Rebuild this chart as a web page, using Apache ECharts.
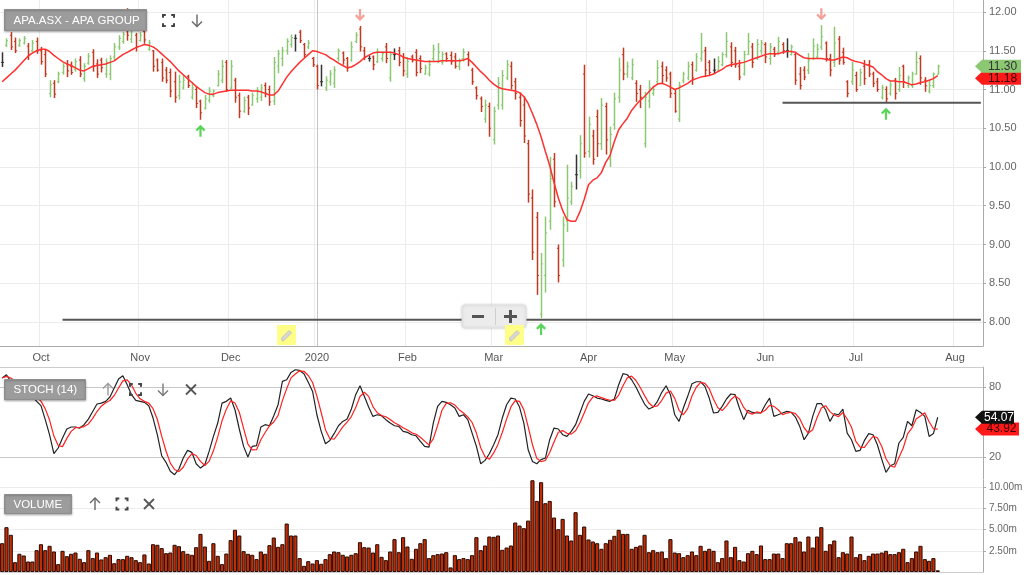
<!DOCTYPE html>
<html><head><meta charset="utf-8">
<script src="https://cdn.jsdelivr.net/npm/echarts@6/dist/echarts.min.js"></script>
<style>html,body{margin:0;padding:0;background:#fff}#c{width:1024px;height:575px}</style>
</head><body><div id="c"></div>
<script>
// ---------- calendar (ASX trading days) ----------
const firstDay = [2019, 8, 18];   // 18 Sep 2019
const lastDay  = [2020, 7, 11];   // 11 Aug 2020 (axis runs past last bar)
const marketHolidays = ['2019-12-25','2019-12-26','2020-01-01','2020-01-27','2020-04-10','2020-04-13','2020-06-08'];
const monthNames = ['Jan','Feb','Mar','Apr','May','Jun','Jul','Aug','Sep','Oct','Nov','Dec'];

// ---------- price data (OHLC) ----------
const opens = [
11.35,11.57,11.70,11.62,11.57,11.60,11.56,11.50,11.62,11.50,
11.45,10.95,11.08,11.10,11.22,11.33,11.30,11.26,11.38,11.14,
11.34,11.48,11.33,11.38,11.20,11.20,11.42,11.55,11.62,11.95,
11.65,11.70,11.63,11.75,11.52,11.50,11.38,11.35,11.25,11.22,
11.10,10.92,11.02,11.17,10.90,11.00,10.85,10.76,10.86,10.92,
11.05,11.12,11.35,11.02,11.12,10.92,10.72,10.90,10.80,10.88,
10.90,11.05,11.00,10.85,11.30,11.40,11.50,11.58,11.66,11.74,
11.58,11.55,11.40,11.30,11.10,11.02,11.10,11.08,11.40,11.47,
11.40,11.38,11.62,11.78,11.50,11.40,11.42,11.36,11.40,11.55,
11.15,11.45,11.50,11.42,11.20,11.42,11.48,11.40,11.20,11.20,
11.40,11.36,11.35,11.46,11.44,11.42,11.30,11.40,11.45,11.25,
11.02,10.88,10.62,10.78,10.35,10.80,10.80,11.15,11.30,11.10,
10.90,10.80,10.30,9.60,9.35,8.10,8.60,9.30,10.10,8.95,
8.80,9.30,9.55,9.90,9.95,11.20,10.20,10.40,10.65,10.30,
10.78,10.10,10.55,10.90,11.45,11.20,11.15,11.08,11.00,10.30,
10.85,10.95,11.10,11.30,11.25,11.20,10.95,10.62,11.12,11.15,
11.32,11.25,11.40,11.50,11.35,11.25,11.25,11.32,11.45,11.55,
11.50,11.30,11.20,11.45,11.55,11.40,11.50,11.58,11.40,11.52,
11.48,11.58,11.50,11.45,11.45,11.20,11.25,11.25,11.40,11.42,
11.55,11.60,11.40,11.35,11.65,11.48,11.10,11.10,11.18,11.05,
11.30,11.32,11.20,11.10,10.90,11.00,10.95,11.12,11.00,11.30,
11.05,11.05,11.20,11.40,11.12,10.98,11.05,11.20];
const highs = [
11.48,11.66,11.74,11.67,11.66,11.69,11.60,11.64,11.67,11.55,
11.51,11.12,11.12,11.23,11.34,11.38,11.36,11.40,11.43,11.34,
11.47,11.52,11.39,11.41,11.40,11.44,11.60,11.70,11.74,12.05,
11.81,11.73,11.74,11.78,11.64,11.51,11.40,11.40,11.29,11.27,
11.23,11.19,11.19,11.19,11.10,11.04,10.87,10.93,11.03,11.00,
11.25,11.38,11.38,11.38,11.15,10.96,10.91,10.93,10.96,11.03,
11.07,11.09,11.05,11.42,11.51,11.55,11.66,11.71,11.71,11.77,
11.60,11.64,11.42,11.32,11.32,11.17,11.25,11.30,11.53,11.49,
11.42,11.62,11.74,11.82,11.55,11.44,11.44,11.53,11.49,11.60,
11.49,11.53,11.55,11.47,11.42,11.45,11.52,11.44,11.32,11.38,
11.58,11.60,11.49,11.48,11.49,11.47,11.40,11.53,11.49,11.28,
11.04,10.91,10.87,10.83,10.78,11.16,11.25,11.38,11.36,11.15,
10.96,10.91,10.35,9.71,9.42,8.89,9.36,10.13,10.18,9.00,
9.36,10.03,9.81,10.16,10.41,11.32,10.65,10.48,10.74,10.89,
10.83,10.52,10.96,11.41,11.54,11.36,11.40,11.12,11.06,10.97,
11.12,11.05,11.38,11.36,11.30,11.23,11.00,11.10,11.23,11.36,
11.36,11.47,11.73,11.55,11.38,11.40,11.43,11.48,11.74,11.61,
11.55,11.38,11.50,11.73,11.60,11.65,11.64,11.61,11.60,11.55,
11.68,11.61,11.66,11.58,11.47,11.29,11.30,11.47,11.66,11.59,
11.83,11.62,11.46,11.81,11.69,11.54,11.12,11.36,11.23,11.27,
11.38,11.38,11.23,11.15,11.06,11.04,11.10,11.15,11.29,11.32,
11.18,11.23,11.49,11.44,11.16,11.12,11.22,11.32];
const lows = [
11.29,11.55,11.51,11.47,11.55,11.58,11.38,11.48,11.46,11.32,
11.16,10.90,10.89,11.08,11.19,11.16,11.19,11.23,11.16,11.10,
11.32,11.23,11.15,11.22,11.15,11.12,11.38,11.51,11.59,11.63,
11.60,11.49,11.62,11.59,11.50,11.23,11.23,11.10,11.08,10.90,
10.83,10.87,11.00,11.02,10.87,10.76,10.61,10.74,10.83,10.90,
11.04,11.08,10.97,11.00,10.83,10.63,10.70,10.67,10.79,10.83,
10.85,10.90,10.79,10.80,11.21,11.30,11.45,11.54,11.49,11.60,
11.41,11.52,11.29,11.00,11.04,10.98,11.05,11.02,11.36,11.32,
11.23,11.36,11.60,11.49,11.38,11.36,11.25,11.34,11.36,11.34,
11.10,11.38,11.30,11.17,11.15,11.35,11.17,11.21,11.19,11.17,
11.36,11.34,11.32,11.36,11.32,11.27,11.25,11.36,11.30,11.06,
10.87,10.71,10.57,10.39,10.29,10.74,10.74,11.12,11.00,10.87,
10.52,10.31,9.54,8.80,8.35,8.05,8.38,9.19,9.48,8.51,
8.71,9.16,9.51,9.71,9.85,10.12,10.12,10.03,10.13,10.22,
10.16,10.00,10.48,10.83,11.12,11.15,11.12,10.84,10.76,10.25,
10.76,10.92,11.06,11.08,11.10,10.89,10.70,10.58,11.08,11.12,
11.06,11.23,11.36,11.16,11.18,11.20,11.23,11.30,11.41,11.29,
11.28,11.12,11.18,11.45,11.28,11.38,11.45,11.34,11.32,11.42,
11.45,11.46,11.41,11.44,11.06,11.00,11.12,11.20,11.38,11.40,
11.51,11.36,11.17,11.29,11.32,11.32,10.90,11.06,10.97,11.05,
11.06,11.16,11.03,10.97,10.87,10.83,10.92,10.87,10.97,11.02,
11.02,11.02,11.19,11.06,10.97,10.95,11.02,11.19];
const closes = [
11.35,11.63,11.55,11.50,11.63,11.66,11.44,11.60,11.50,11.36,
11.20,11.06,10.94,11.20,11.30,11.24,11.22,11.36,11.20,11.30,
11.43,11.30,11.20,11.28,11.35,11.40,11.55,11.66,11.71,11.70,
11.76,11.55,11.70,11.64,11.60,11.30,11.25,11.15,11.12,10.98,
10.90,11.10,11.12,11.05,11.02,10.82,10.70,10.88,10.98,10.98,
11.20,11.30,11.00,11.30,10.90,10.72,10.86,10.76,10.92,10.98,
11.02,10.95,10.84,11.35,11.46,11.50,11.62,11.67,11.66,11.63,
11.45,11.60,11.32,11.05,11.10,11.12,11.20,11.25,11.50,11.38,
11.28,11.55,11.70,11.55,11.42,11.40,11.32,11.48,11.46,11.40,
11.45,11.45,11.35,11.24,11.36,11.38,11.22,11.27,11.28,11.32,
11.52,11.48,11.45,11.40,11.36,11.30,11.36,11.48,11.38,11.10,
10.92,10.78,10.80,10.50,10.72,11.08,11.18,11.32,11.05,10.95,
10.60,10.40,9.65,8.90,8.60,8.75,9.15,9.85,9.55,8.60,
9.25,9.60,9.75,9.90,10.30,10.18,10.55,10.10,10.30,10.80,
10.35,10.42,10.88,11.25,11.20,11.30,11.32,10.95,10.90,10.90,
11.02,11.00,11.28,11.18,11.15,10.95,10.72,11.05,11.20,11.30,
11.15,11.42,11.48,11.25,11.22,11.25,11.36,11.45,11.62,11.35,
11.32,11.16,11.45,11.62,11.35,11.58,11.60,11.42,11.55,11.45,
11.62,11.50,11.50,11.55,11.12,11.05,11.16,11.38,11.56,11.52,
11.68,11.40,11.25,11.60,11.38,11.35,10.95,11.25,11.00,11.22,
11.14,11.20,11.08,11.00,11.02,10.88,11.06,10.95,11.18,11.10,
11.15,11.20,11.35,11.15,11.05,11.05,11.20,11.30];
// moving average line as drawn
const movingAvg = [
11.10,11.15,11.20,11.25,11.31,11.37,11.43,11.47,11.50,11.52,
11.52,11.49,11.44,11.40,11.36,11.33,11.31,11.28,11.25,11.24,
11.27,11.30,11.31,11.32,11.33,11.35,11.37,11.41,11.45,11.48,
11.51,11.54,11.56,11.58,11.57,11.55,11.51,11.46,11.41,11.36,
11.30,11.24,11.19,11.14,11.09,11.04,11.00,10.96,10.94,10.94,
10.96,10.97,10.98,10.99,10.99,10.99,10.99,10.99,10.98,10.98,
10.97,10.95,10.93,10.93,10.98,11.07,11.16,11.23,11.29,11.35,
11.40,11.45,11.50,11.49,11.47,11.45,11.41,11.38,11.34,11.31,
11.28,11.29,11.32,11.36,11.41,11.44,11.47,11.48,11.48,11.48,
11.48,11.47,11.45,11.42,11.40,11.39,11.38,11.37,11.36,11.36,
11.36,11.36,11.37,11.37,11.37,11.37,11.37,11.38,11.40,11.35,
11.29,11.23,11.18,11.12,11.07,11.03,11.01,11.00,10.99,10.98,
10.96,10.91,10.82,10.69,10.55,10.39,10.20,10.02,9.80,9.60,
9.44,9.32,9.30,9.30,9.42,9.58,9.77,9.83,9.86,9.93,
10.06,10.15,10.33,10.48,10.56,10.63,10.73,10.80,10.86,10.91,
10.97,11.03,11.07,11.08,11.06,11.03,11.00,11.02,11.05,11.08,
11.12,11.14,11.16,11.17,11.18,11.20,11.23,11.26,11.30,11.32,
11.33,11.34,11.35,11.37,11.39,11.41,11.43,11.45,11.46,11.46,
11.46,11.48,11.49,11.49,11.48,11.44,11.41,11.40,11.40,11.40,
11.40,11.39,11.38,11.38,11.40,11.42,11.41,11.38,11.36,11.35,
11.33,11.31,11.29,11.23,11.19,11.14,11.11,11.11,11.10,11.10,
11.08,11.06,11.07,11.09,11.10,11.12,11.14,11.18];
// Stochastic %K (14)
const stochK = [
87.7,90.5,84.8,80,77,75,74,72,67.7,64,
52,39,22.8,27.7,36.2,44,45.7,45.7,44.8,47.7,
52.5,59,65.4,66.2,67.7,71.4,79.1,86.8,89.7,82,
73.4,68.5,67.7,66.8,64,53.4,39,21.1,15.4,7.7,
4.8,9.7,19.1,25.7,24,14.2,10.5,13.4,24.8,37.7,
49.1,66.2,67.7,70.5,60.5,44,29.1,20,29.1,29.7,
45.7,47.7,46.8,55.4,64.8,84.8,86.2,92.5,94.8,94.2,
91.4,84,76.2,56.2,42,31.4,34.2,40,46.8,50.5,
52.5,61.1,73.4,81.1,72,62.8,54.8,56.2,55.4,52,
49.1,46.8,46.2,42,41.1,39.1,38.2,33.4,29.1,28.5,
49,63.4,67.7,66.8,64.8,62,54.8,56.2,52,40.5,
29.1,14.2,17.1,22.8,30.5,39.1,53.4,64.8,70.5,69.7,
62.8,49.1,26.2,16.2,14.2,17.7,19.1,34.8,44.8,44,
39.1,37.7,42,47.7,57.7,67.7,74,72.5,70.5,69.7,
68.5,67.7,69.7,82,91.4,90.5,86.2,80,72.5,65.4,
61.1,62.8,67.7,75.4,81.1,73.4,56.2,50.5,62,72,
82.8,84.5,84.5,80.5,70.5,57.7,58.2,63.4,69.7,74,
73.4,62,52,60,58.2,57.7,57.7,64.8,70.5,54.8,
56.2,57.7,59.1,58.2,54.2,46.2,34.8,40.5,54.8,65.7,
65.7,60.5,50.5,57.1,56.2,61.1,40.5,34.8,24.8,25.7,
34.2,40,39.1,30.5,18.2,6.8,12.5,14.2,32,36.8,
50.5,46.8,60.5,58.2,54.8,37.6,40.09,54.07];
const stochDPeriod = 3;
// Volume (millions)
const volumeM = [
3.40,5.29,4.39,1.16,2.15,1.95,1.24,1.24,2.58,3.28,
2.58,3.09,2.42,0.93,2.50,1.87,2.15,2.30,1.56,1.16,
2.58,1.64,2.30,1.48,1.75,2.03,1.04,1.52,1.52,1.91,
1.75,1.40,1.16,2.07,1.00,3.28,3.21,2.82,2.22,2.30,
3.21,3.05,2.46,2.15,2.03,2.93,4.50,3.01,1.32,3.40,
1.91,0.93,2.18,3.76,4.98,4.31,2.46,2.15,2.03,1.52,
2.42,2.15,3.17,4.07,2.97,3.28,5.72,4.31,4.31,1.64,
0.73,1.28,1.00,1.40,0.97,1.52,2.11,2.42,2.34,2.03,
1.83,2.03,2.22,3.52,2.93,2.89,2.30,3.28,1.79,1.40,
2.42,3.88,2.34,4.11,3.01,1.56,2.74,3.40,3.88,1.64,
1.99,2.11,2.18,2.34,0.54,1.99,1.52,1.64,1.52,1.99,
4.11,2.58,3.13,4.19,4.15,4.31,2.62,2.89,3.13,5.84,
5.48,5.17,6.07,10.83,8.39,10.60,8.12,8.39,6.43,5.05,
6.27,4.31,3.72,7.06,4.39,5.37,3.84,3.60,3.40,2.74,
3.40,3.80,4.27,4.98,4.50,4.50,2.74,2.97,3.13,4.39,
2.34,2.58,2.34,2.42,1.64,3.88,2.30,2.22,1.75,1.99,
2.42,1.99,3.09,2.50,2.74,2.50,1.16,1.64,3.72,1.75,
2.97,1.40,1.24,2.22,2.50,2.11,3.13,1.52,1.52,2.18,
2.18,1.64,3.40,3.40,4.11,3.60,2.42,4.19,2.89,4.19,
5.29,2.50,3.28,3.72,1.75,2.34,2.18,4.19,1.75,2.11,
1.40,1.91,2.18,2.18,2.30,2.50,2.11,2.11,2.34,2.74,
1.16,1.64,2.42,3.09,1.52,1.32,1.64,0.20];

// annotations
const upArrowBars = [46, 125, 205];
const downArrowBars = [83, 190];
const supportLines = [{from: 14, level: 8.03}, {from: 181, level: 10.83}];
const priceTicks = [8, 8.5, 9, 9.5, 10, 10.5, 11, 11.5, 12];
const stochTicks = [20, 80];
const volumeTicks = [2.5, 5, 7.5, 10];

// ---------- build ----------
function buildDates() {
  const out = [];
  let t = Date.UTC(firstDay[0], firstDay[1], firstDay[2]);
  const end = Date.UTC(lastDay[0], lastDay[1], lastDay[2]);
  while (t <= end) {
    const d = new Date(t);
    const wd = d.getUTCDay();
    const s = d.toISOString().slice(0, 10);
    if (wd !== 0 && wd !== 6 && marketHolidays.indexOf(s) < 0) out.push(s);
    t += 86400000;
  }
  return out;
}
const dates = buildDates();
const isMonthStart = dates.map((d, i) => i > 0 && d.slice(5, 7) !== dates[i - 1].slice(5, 7));
function monthLabel(d) { const m = +d.slice(5, 7); return m === 1 ? d.slice(0, 4) : monthNames[m - 1]; }

const ohlcData = opens.map((o, i) => [i, o, highs[i], lows[i], closes[i]]);
const stochD = stochK.map((v, i) => {
  const s = Math.max(0, i - stochDPeriod + 1);
  const w = stochK.slice(s, i + 1);
  return +(w.reduce((a, b) => a + b, 0) / w.length).toFixed(2);
});
const lastIdx = closes.length - 1;
const lastCat = dates.length - 1;

const GREEN = '#8cc874', RED = '#c23a22', BLACK = '#333';
const FONT = 'Liberation Sans, Arial, sans-serif';

const chart = echarts.init(document.getElementById('c'), null, {renderer: 'canvas'});

const axisLabelStyle = {color: '#666', fontSize: 11, fontFamily: FONT, margin: 6};
const ARROW = 'path://M5,0L10,5L8.4,6.6L6.1,4.3L6.1,12L3.9,12L3.9,4.3L1.6,6.6L0,5Z';

const option = {
  animation: false,
  backgroundColor: '#fff',
  grid: [
    {left: 0, right: 41, top: 0, height: 346, outerBoundsMode: 'none', containLabel: false},
    {left: 0, right: 41, top: 367, height: 112, outerBoundsMode: 'none', containLabel: false},
    {left: 0, right: 41, top: 480, height: 92, outerBoundsMode: 'none', containLabel: false}
  ],
  xAxis: [
    {type: 'category', gridIndex: 0, data: dates, boundaryGap: true,
     axisLine: {lineStyle: {color: '#aaa'}}, axisTick: {show: false},
     axisLabel: {interval: (i) => isMonthStart[i], formatter: (v) => monthLabel(v),
                 color: '#555', fontSize: 11, fontFamily: FONT, margin: 6},
     splitLine: {show: true, interval: (i) => isMonthStart[i], lineStyle: {color: '#ececec'}}},
    {type: 'category', gridIndex: 1, data: dates, position: 'top',
     axisLine: {lineStyle: {color: '#ccc'}}, axisTick: {show: false}, axisLabel: {show: false}, splitLine: {show: false}},
    {type: 'category', gridIndex: 2, data: dates, position: 'top',
     axisLine: {lineStyle: {color: '#ccc'}}, axisTick: {show: false}, axisLabel: {show: false}, splitLine: {show: false}}
  ],
  yAxis: [
    {type: 'value', gridIndex: 0, position: 'right', min: 7.69, max: 12.155,
     axisLine: {show: true, lineStyle: {color: '#aaa'}},
     axisTick: {show: true, length: 3, customValues: priceTicks, lineStyle: {color: '#aaa'}},
     axisLabel: Object.assign({customValues: priceTicks, formatter: (v) => v.toFixed(2)}, axisLabelStyle),
     splitLine: {show: true, lineStyle: {color: '#ececec'}}},
    {type: 'value', gridIndex: 1, position: 'right', min: 1.14, max: 97.14,
     axisLine: {show: true, lineStyle: {color: '#aaa'}},
     axisTick: {show: true, length: 3, customValues: stochTicks, lineStyle: {color: '#aaa'}},
     axisLabel: Object.assign({customValues: stochTicks, formatter: (v) => String(v)}, axisLabelStyle),
     splitLine: {show: true, lineStyle: {color: '#c8c8c8'}}},
    {type: 'value', gridIndex: 2, position: 'right', min: 0, max: 10.86,
     axisLine: {show: true, lineStyle: {color: '#aaa'}},
     axisTick: {show: true, length: 3, customValues: volumeTicks, lineStyle: {color: '#aaa'}},
     axisLabel: Object.assign({}, axisLabelStyle, {customValues: volumeTicks, fontSize: 10, formatter: (v) => v.toFixed(2) + 'm'}),
     splitLine: {show: true, lineStyle: {color: '#ececec'}}}
  ],
  series: [
    {type: 'custom', name: 'price', xAxisIndex: 0, yAxisIndex: 0, z: 2,
     encode: {x: 0, y: [1, 2, 3, 4]}, data: ohlcData, clip: true,
     renderItem: function (params, api) {
       const i = api.value(0), o = api.value(1), h = api.value(2), l = api.value(3), c = api.value(4);
       const ph = api.coord([i, h]), pl = api.coord([i, l]), po = api.coord([i, o]), pc = api.coord([i, c]);
       const col = c > o ? GREEN : (c < o ? RED : BLACK);
       const x = Math.round(ph[0]) + 0.5;
       return {type: 'group', children: [
         {type: 'line', shape: {x1: x, y1: ph[1], x2: x, y2: pl[1]}, style: {stroke: col, lineWidth: 1.5}},
         {type: 'line', shape: {x1: x - 1.6, y1: po[1], x2: x, y2: po[1]}, style: {stroke: col, lineWidth: 1}},
         {type: 'line', shape: {x1: x, y1: pc[1], x2: x + 1.6, y2: pc[1]}, style: {stroke: col, lineWidth: 1}}
       ]};
     }},
    {type: 'line', name: 'MA', xAxisIndex: 0, yAxisIndex: 0, data: movingAvg, z: 3,
     showSymbol: false, symbol: 'none', lineStyle: {color: '#ff3030', width: 1.5}},
    ...supportLines.map(s => ({type: 'line', xAxisIndex: 0, yAxisIndex: 0, z: 4, symbol: 'none',
      data: [[s.from, s.level], [lastCat, s.level]], lineStyle: {color: '#555', width: 2}})),
    {type: 'scatter', xAxisIndex: 0, yAxisIndex: 0, z: 5, symbol: ARROW,
     symbolSize: [10, 12], symbolOffset: [0, 11], itemStyle: {color: '#2fcc2f'},
     data: upArrowBars.map(i => [i, lows[i]])},
    {type: 'scatter', xAxisIndex: 0, yAxisIndex: 0, z: 5, symbol: ARROW,
     symbolSize: [10, 12], symbolRotate: 180, symbolOffset: [0, -11], itemStyle: {color: '#f08a80'},
     data: downArrowBars.map(i => [i, highs[i]])},
    {type: 'line', name: '%K', xAxisIndex: 1, yAxisIndex: 1, data: stochK, symbol: 'none',
     lineStyle: {color: '#222', width: 1.2}},
    {type: 'line', name: '%D', xAxisIndex: 1, yAxisIndex: 1, data: stochD, symbol: 'none',
     lineStyle: {color: '#ff2020', width: 1.2}},
    {type: 'bar', name: 'Volume', xAxisIndex: 2, yAxisIndex: 2, data: volumeM, barWidth: '96%',
     itemStyle: {color: '#bf2c06', borderColor: '#2a0a00', borderWidth: 1}}
  ]
};
chart.setOption(option);

// ---------- overlays ----------
function tag(yc, text, fill, color, right, z) {
  return [
    {type: 'polygon', z: z, shape: {points: [[975, yc], [982, yc - 6.5], [right, yc - 6.5], [right, yc + 6.5], [982, yc + 6.5]]},
     style: {fill: fill}},
    {type: 'text', z: z + 1, x: (982 + right) / 2 + 1, y: yc,
     style: {text: text, fill: color, font: '12px ' + FONT, align: 'center', verticalAlign: 'middle'}}
  ];
}
function labelBox(x, y, w, h, text) {
  return [
    {type: 'rect', z: 50, shape: {x: x, y: y, width: w, height: h}, style: {fill: '#9c9c9c', stroke: '#8e8e8e', lineWidth: 1,
      shadowBlur: 2, shadowColor: 'rgba(0,0,0,0.25)', shadowOffsetY: 1}},
    {type: 'text', z: 51, x: x + 9, y: y + h / 2 + 0.5,
     style: {text: text, fill: '#fff', font: '11.5px ' + FONT, verticalAlign: 'middle'}}
  ];
}
function pl(points, stroke, w) { return {type: 'polyline', z: 50, shape: {points: points}, style: {stroke: stroke, lineWidth: w, fill: null}}; }
function upIcon(cx, cy, col) { return [pl([[cx, cy + 6], [cx, cy - 6]], col, 1.4), pl([[cx - 5, cy - 1], [cx, cy - 6], [cx + 5, cy - 1]], col, 1.4)]; }
function downIcon(cx, cy, col) { return [pl([[cx, cy - 6], [cx, cy + 6]], col, 1.4), pl([[cx - 5, cy + 1], [cx, cy + 6], [cx + 5, cy + 1]], col, 1.4)]; }
function fullIcon(cx, cy, col) {
  const a = 5.5, b = 2.8;
  return [
    pl([[cx - a, cy - a + b], [cx - a, cy - a], [cx - a + b, cy - a]], col, 2),
    pl([[cx + a - b, cy - a], [cx + a, cy - a], [cx + a, cy - a + b]], col, 2),
    pl([[cx - a, cy + a - b], [cx - a, cy + a], [cx - a + b, cy + a]], col, 2),
    pl([[cx + a - b, cy + a], [cx + a, cy + a], [cx + a, cy + a - b]], col, 2)
  ];
}
function closeIcon(cx, cy, col) { return [pl([[cx - 5, cy - 5], [cx + 5, cy + 5]], col, 1.8), pl([[cx + 5, cy - 5], [cx - 5, cy + 5]], col, 1.8)]; }
function pencilBox(x, y) {
  return [
    {type: 'rect', z: 40, shape: {x: x, y: y, width: 19, height: 20}, style: {fill: '#ffff88'}},
    {type: 'polygon', z: 41, shape: {points: [[x + 5, y + 16], [x + 4.5, y + 13], [x + 12, y + 5.5], [x + 14.5, y + 8], [x + 7, y + 15.5]]},
     style: {fill: '#d6d6d6', stroke: '#bdbdbd', lineWidth: 0.8}}
  ];
}

const yearIdx = dates.findIndex(d => d.slice(0, 7) === '2020-01');
const yearX = Math.round(chart.convertToPixel({xAxisIndex: 0}, yearIdx)) + 0.5;
const yClose = chart.convertToPixel({yAxisIndex: 0}, closes[lastIdx]);
const yMA = chart.convertToPixel({yAxisIndex: 0}, movingAvg[lastIdx]);
const yK = chart.convertToPixel({yAxisIndex: 1}, stochK[lastIdx]);
const yD = chart.convertToPixel({yAxisIndex: 1}, stochD[lastIdx]);

const graphics = [].concat(
  [{type: 'line', z: 1, shape: {x1: yearX, y1: 0, x2: yearX, y2: 346}, style: {stroke: '#c4c4c4', lineWidth: 1}}],
  tag(Math.max(yMA, yClose + 12), movingAvg[lastIdx].toFixed(2), '#ff1a1a', '#3a0000', 1021, 60),
  tag(yClose, closes[lastIdx].toFixed(2), GREEN, '#333', 1021, 62),
  tag(Math.max(yD, yK + 11), stochD[lastIdx].toFixed(2), '#ff1a1a', '#3a0000', 1019, 60),
  tag(yK, stochK[lastIdx].toFixed(2), '#111', '#fff', 1014, 62),
  labelBox(4.5, 9.5, 142, 21, 'APA.ASX - APA GROUP'),
  fullIcon(168.5, 20.5, '#444'), downIcon(197, 20.5, '#666'),
  labelBox(4.5, 379.5, 81, 20, 'STOCH (14)'),
  upIcon(108, 389.5, '#999'), fullIcon(135.5, 389.5, '#444'), downIcon(163, 389.5, '#777'), closeIcon(191, 389.5, '#555'),
  labelBox(4.5, 494.5, 67, 19, 'VOLUME'),
  upIcon(95, 504, '#666'), fullIcon(122, 504, '#444'), closeIcon(149, 504, '#555'),
  [{type: 'rect', z: 40, shape: {x: 462, y: 305, width: 64, height: 23, r: 3},
    style: {fill: '#ececec', stroke: '#e0e0e0', shadowBlur: 3, shadowColor: 'rgba(0,0,0,0.15)'}},
   {type: 'line', z: 41, shape: {x1: 472, y1: 316.5, x2: 484, y2: 316.5}, style: {stroke: '#555', lineWidth: 3}},
   {type: 'line', z: 41, shape: {x1: 495.5, y1: 308, x2: 495.5, y2: 325}, style: {stroke: '#cfcfcf', lineWidth: 1}},
   {type: 'line', z: 41, shape: {x1: 504, y1: 316.5, x2: 517, y2: 316.5}, style: {stroke: '#555', lineWidth: 3}},
   {type: 'line', z: 41, shape: {x1: 510.5, y1: 310, x2: 510.5, y2: 323}, style: {stroke: '#555', lineWidth: 3}}],
  pencilBox(277, 325), pencilBox(505, 325)
);
chart.setOption({graphic: graphics});
</script>
</body></html>
